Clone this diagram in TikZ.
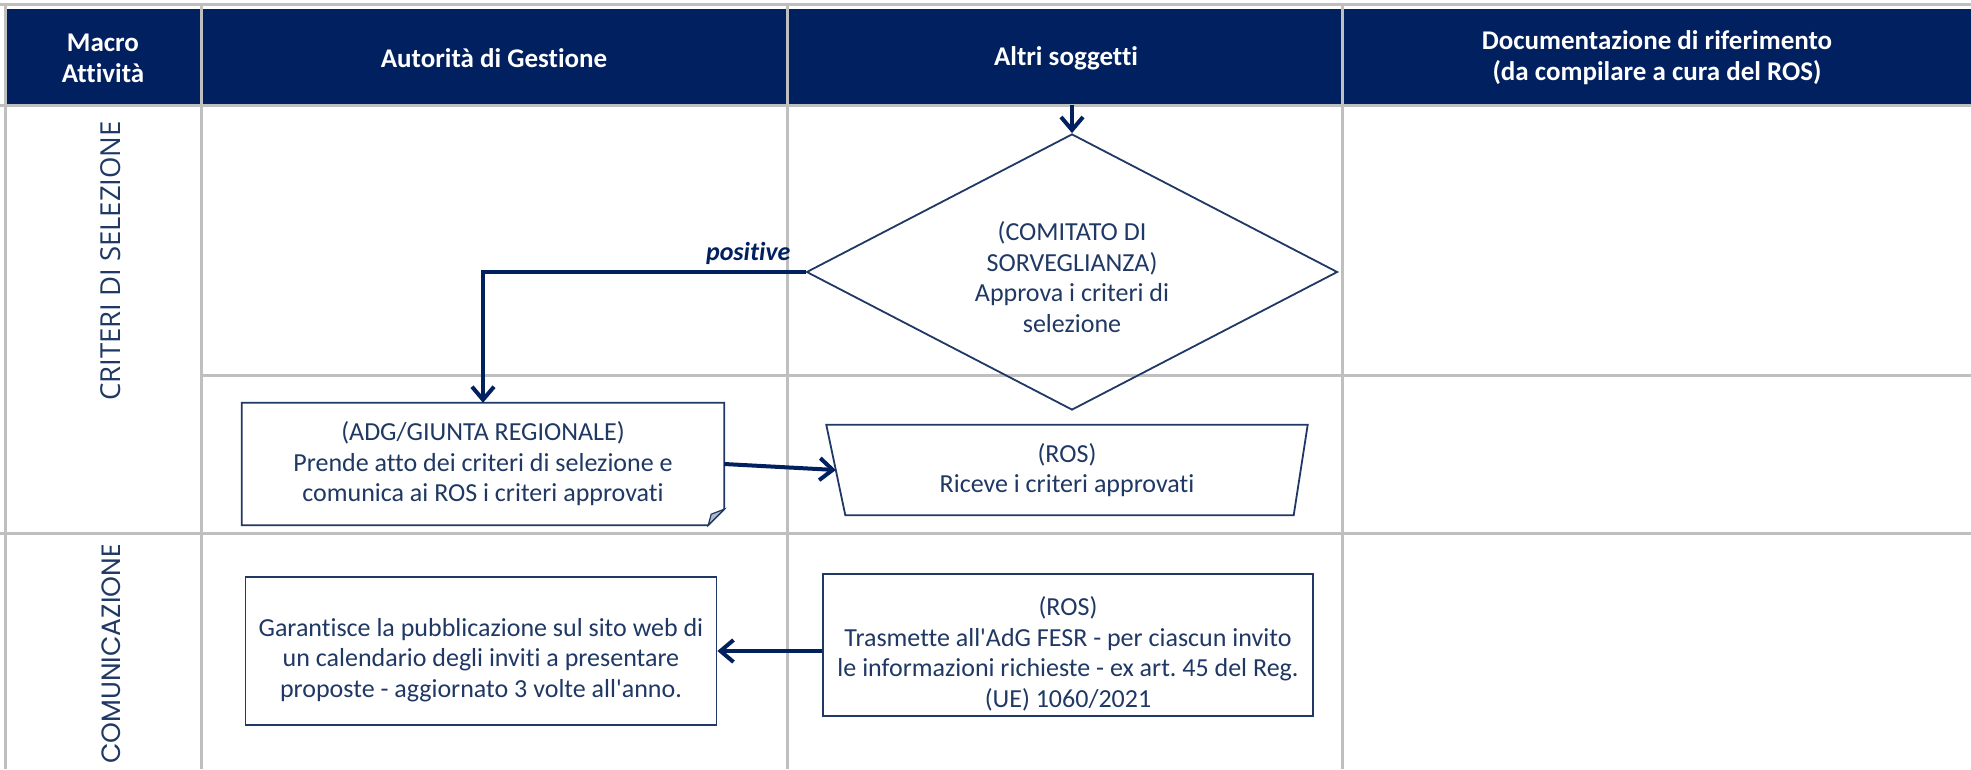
\documentclass[tikz,border=0pt]{standalone}
\usepackage{fontspec}
\setmainfont{Carlito}[Ligatures={NoCommon}]
\newfontfamily\opensansfam{Open Sans}
\newfontfamily\poppinsfam{Poppins}
\usetikzlibrary{shapes.geometric,arrows.meta,calc}
\definecolor{navy}{HTML}{002060}
\definecolor{ink}{HTML}{1F3864}
\definecolor{gridgray}{HTML}{BFBFBF}
\frenchspacing
\begin{document}
\begin{tikzpicture}[x=1pt,y=-1pt,
  every node/.style={font=\fontsize{26}{30.5}\selectfont, text=ink},
  hdr/.style={font=\fontsize{27}{31}\selectfont\bfseries, text=white, align=center},
  gridline/.style={draw=gridgray, line width=3pt},
  shapeline/.style={draw=ink, line width=1.8pt},
  box/.style={shapeline, align=center, inner sep=0pt},
  txt/.style={align=center, inner sep=0pt},
  flow/.style={draw=navy, line width=4pt, -{Straight Barb[length=13pt,width=22pt]}},
]
\useasboundingbox (0,0) rectangle (1971,769);
\fill[white] (0,0) rectangle (1971,769);
% header
\fill[navy] (6,9) rectangle (1971,104);
% grid
\draw[gridline] (0,4) -- (1971,4);
\draw[gridline] (0,105) -- (1971,105);
\draw[gridline] (201,375) -- (1971,375);
\draw[gridline] (0,533) -- (1971,533);
\draw[gridline] (5,4) -- (5,769);
\draw[gridline] (201,4) -- (201,769);
\draw[gridline] (787,4) -- (787,769);
\draw[gridline] (1342,4) -- (1342,769);
% header texts
\node[hdr] (h1) at (103,58) {Macro\\Attività};
\node[hdr] (h2) at (494,58) {Autorità di Gestione};
\node[hdr] (h3) at (1066,58) {Altri soggetti};
\node[hdr] (h4) at (1657,58) {Documentazione di riferimento\\(da compilare a cura del ROS)};
% macro labels
\node[rotate=90, font=\opensansfam\fontsize{27.5}{30}\selectfont] (l1) at (111,261) {CRITERI DI SELEZIONE};
\node[rotate=90, font=\poppinsfam\fontsize{26.5}{30}\selectfont] (l2) at (111,654) {COMUNICAZIONE};
% diamond
\node[diamond, box, minimum width=531pt, minimum height=276pt, aspect=1.92] (cs) at (1072,272) {};
\node[txt] (cst) at (1072,277) {(COMITATO DI\\SORVEGLIANZA)\\Approva i criteri di\\selezione};
\coordinate (csin) at (1072,105);
% ADG note box
\node[txt, minimum width=482pt, minimum height=122pt] (adg) at (483,464)
  {(ADG/GIUNTA REGIONALE)\\Prende atto dei criteri di selezione e\\comunica ai ROS i criteri approvati};
\draw[shapeline] (adg.south west) -- (adg.north west) -- (adg.north east) -- ([yshift=16pt]adg.south east)
  -- ([xshift=-16pt]adg.south east) -- cycle;
\filldraw[fill=ink!35, draw=ink, line width=1.2pt] ([xshift=-16pt]adg.south east) -- ([yshift=16pt]adg.south east)
  -- ([xshift=-13pt,yshift=11pt]adg.south east) -- cycle;
% ROS trapezoid
\node[txt, minimum width=481pt, minimum height=90pt] (ros1) at (1067,470)
  {(ROS)\\Riceve i criteri approvati};
\draw[shapeline] (ros1.north west) -- (ros1.north east) -- ([xshift=-14pt]ros1.south east)
  -- ([xshift=19pt]ros1.south west) -- cycle;
\coordinate (ros1in) at ($(ros1.north west)!0.5!([xshift=19pt]ros1.south west)$);
% bottom boxes
\node[box, minimum width=471pt, minimum height=148pt] (gar) at (481,651) {};
\node[txt] (gart) at (481,660)
  {Garantisce la pubblicazione sul sito web di\\un calendario degli inviti a presentare\\proposte - aggiornato 3 volte all\textquotesingle anno.};
\node[box, minimum width=490pt, minimum height=142pt] (ros2) at (1068,645) {};
\node[txt] (ros2t) at (1068,654)
  {(ROS)\\Trasmette all\textquotesingle AdG FESR - per ciascun invito\\le informazioni richieste - ex art. 45 del Reg.\\(UE) 1060/2021};
% connectors
\draw[flow] (csin) -- (cs.north);
\draw[flow] (cs.west) -| (adg.north);
\node[font=\fontsize{26}{31}\selectfont\bfseries\itshape, text=navy, anchor=east] (pos) at (794,253) {positive};
\draw[flow] (adg.east) -- (ros1in);
\draw[flow] (ros2.west |- gar.east) -- (gar.east);
\end{tikzpicture}
\end{document}
